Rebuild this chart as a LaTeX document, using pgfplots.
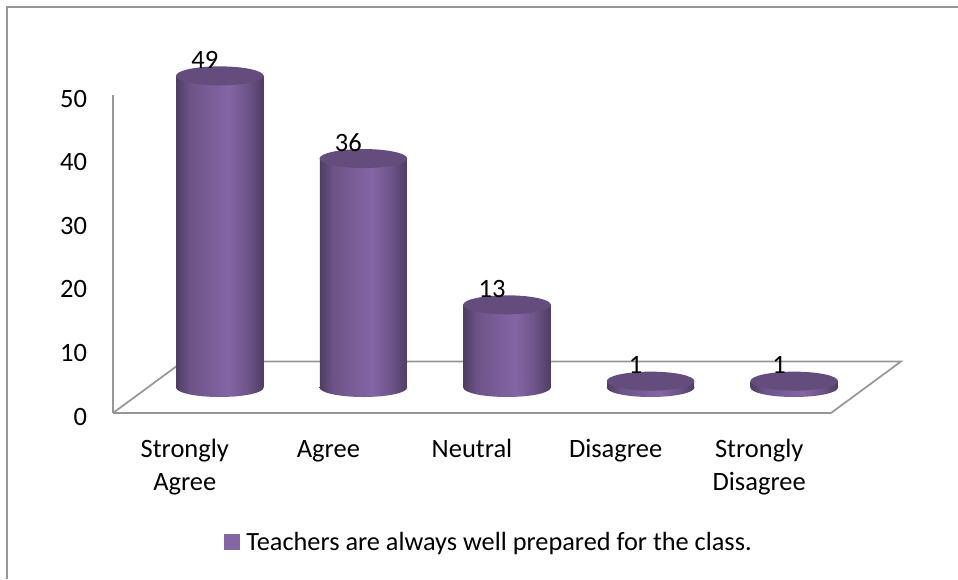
\documentclass[border=0pt]{standalone}
\usepackage{pgfplots}
\pgfplotsset{compat=1.18}
\usepackage{fontspec}
\setmainfont{Carlito}
\definecolor{barmid}{HTML}{8565A5}
\definecolor{bardark}{HTML}{4F3D63}
\definecolor{barside}{HTML}{6D5488}
\definecolor{bartop}{HTML}{644D7C}
\definecolor{framegray}{HTML}{969696}
\pgfdeclarehorizontalshading{cyl}{100bp}{
  color(0bp)=(bardark); color(25bp)=(bardark); color(33bp)=(barside);
  color(55bp)=(barmid); color(66bp)=(barside); color(75bp)=(bardark); color(100bp)=(bardark)}
\pgfdeclareplotmark{cylbase}{\path[draw=none,shade,shading=cyl,rotate=7] (0pt,0pt) ellipse [x radius=43.8pt,y radius=9.5pt];}
\pgfdeclareplotmark{cyltop}{\path[draw=none,fill=bartop,rotate=7] (0pt,0pt) ellipse [x radius=43.8pt,y radius=9.5pt];}
\pgfplotsset{
  depth/.style={xshift=35pt,yshift=25.5pt},
  body/.style={ybar,bar width=87pt,draw=none,shade,shading=cyl,forget plot,depth},
}
\begin{document}
\begin{tikzpicture}[x=1pt,y=1pt]
\useasboundingbox (-113,-166) rectangle (845,413);
\draw[framegray,line width=1.7pt] (-106,-166) -- (-106,406) -- (845,406);
\begin{axis}[
    at={(0pt,0pt)}, anchor=south west,
    scale only axis,
    width=718pt, height=318pt,
    xmin=-0.5, xmax=4.5,
    ymin=0, ymax=50,
    clip=false,
    axis x line*=bottom, axis y line*=left,
    axis line style={framegray,line width=1.7pt,-},
    major tick length=0pt,
    xtick={0,1,2,3,4},
    xticklabels={\strut Strongly\\Agree, \strut Agree, \strut Neutral, \strut Disagree, \strut Strongly\\Disagree},
    xticklabel style={align=center,font=\fontsize{26.5}{33}\selectfont,yshift=-18pt,anchor=north},
    ytick={0,10,20,30,40,50},
    yticklabel style={font=\fontsize{26.5}{30}\selectfont,xshift=-22.5pt,yshift=-3.5pt},
    /pgf/number format/assume math mode=true,
    legend style={at={(0.5237,-0.4057)},anchor=center,draw=none,fill=none,
      font=\fontsize{26.3}{30}\selectfont},
    legend cell align=left,
]
\addlegendimage{only marks,mark=square*,color=barmid,mark size=7.5pt}
\addlegendentry{\hspace{5pt}Teachers are always well prepared for the class.}
% floor
\addplot[framegray,line width=1.7pt,forget plot] coordinates {
    (-0.5,0) (-0.0125,8.1) (4.9875,8.1) (4.5,0)
};
% cylinder bottoms
\addplot[only marks,mark=cylbase,forget plot,depth] coordinates {
    (0,0) (1,0) (2,0) (3,0) (4,0)
};
% cylinder bodies, one plot each so that each gets its own shading
\addplot[body] coordinates {(0,49)};
\addplot[body] coordinates {(1,36)};
\addplot[body] coordinates {(2,13)};
\addplot[body] coordinates {(3,1)};
\addplot[body] coordinates {(4,1)};
% cylinder tops
\addplot[only marks,mark=cyltop,forget plot,depth] coordinates {
    (0,49) (1,36) (2,13) (3,1) (4,1)
};
% value labels
\addplot[only marks,mark=none,forget plot,
    nodes near coords,point meta=y,
    nodes near coords style={font=\fontsize{26.5}{30}\selectfont,anchor=center,xshift=20pt,yshift=41.5pt,text=black}] coordinates {
    (0,49) (1,36) (2,13) (3,1) (4,1)
};
\end{axis}
\end{tikzpicture}
\end{document}
